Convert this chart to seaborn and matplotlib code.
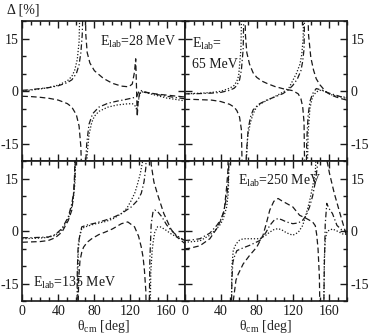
import numpy as np
import pandas as pd
import seaborn as sns
import matplotlib.pyplot as plt
from matplotlib.ticker import MultipleLocator

# each curve: list of branches (x in deg, y in %), branches split at the poles
E28_dash = [
    ([0, 10, 20, 30, 40, 50, 55, 60, 63, 65, 66.5],
     [-1.5, -1.6, -1.8, -2.1, -2.6, -3.6, -4.6, -6.8, -10, -16, -30]),
    ([69.5, 70.5, 72, 75, 80, 90, 100, 110, 118, 122, 124.5, 125.8, 126.6, 127.5, 128.5, 130, 133, 140, 150, 165, 180],
     [30, 16, 11, 8, 5.8, 3.6, 2.2, 1.4, 1.2, 2.0, 5.5, 9.2, 2, -7.3, -3, -0.8, -0.3, -0.5, -0.9, -1.3, -1.7]),
]
E28_dashdot = [
    ([0, 10, 20, 30, 40, 50, 55, 60, 63, 65, 66.5, 67.5, 68.2],
     [0.2, 0.4, 0.7, 1.0, 1.5, 2.4, 3.2, 5, 7.5, 11, 16, 25, 40]),
    ([69, 70, 71.5, 74, 78, 85, 95, 105, 115, 122, 125, 127, 129, 131, 135, 145, 160, 180],
     [-40, -22, -15, -9.5, -6.5, -4.6, -3.5, -2.9, -2.4, -2.0, -1.8, -1.5, -0.3, 0.2, -0.2, -0.8, -1.5, -2.2]),
]
E28_dot = [
    ([0, 10, 20, 30, 40, 50, 55, 58, 61, 63, 64.5],
     [0, 0.3, 0.6, 1.0, 1.7, 2.9, 4.2, 5.8, 9, 14, 30]),
    ([70.5, 72, 74, 77, 80, 85, 95, 105, 115, 122, 125, 127, 129, 131, 135, 145, 160, 180],
     [-30, -18, -12.5, -9, -7.2, -5.8, -4.6, -4.0, -3.7, -3.6, -4.2, -5.4, -2.5, -0.2, -0.3, -1.0, -2.0, -2.8]),
]

E65_dash = [
    ([0, 10, 20, 30, 40, 50, 55, 58, 61, 63, 64.5],
     [-2.4, -2.4, -2.5, -2.6, -3.0, -3.8, -4.6, -5.6, -7.5, -11, -30]),
    ([66.5, 67.5, 69, 72, 76, 80, 86, 92, 100, 110, 120, 126, 129, 131, 132.5, 133.5],
     [30, 16, 11, 7.7, 5.2, 3.9, 2.8, 2.1, 1.3, 0.6, 0.1, -0.8, -2.2, -4.5, -9, -30]),
    ([136, 137.5, 140, 143, 146, 150, 157, 163, 168, 174, 180],
     [30, 16, 9.6, 6, 3.5, 1.8, -0.3, -1.2, -1.7, -2.2, -2.6]),
]
E65_dashdot = [
    ([0, 10, 20, 30, 40, 50, 55, 58, 61, 63, 65, 66.2],
     [-0.8, -0.8, -0.7, -0.6, -0.4, 0.2, 0.8, 1.6, 3.2, 6, 12, 30]),
    ([67.2, 68.5, 70.5, 73, 76, 82, 91, 100, 109, 115, 120, 125, 129, 131, 132.5, 133.5],
     [-30, -18, -11, -7.5, -5.4, -3.8, -2.6, -1.7, -0.75, 0.3, 1.6, 3.4, 5.8, 8.5, 12, 30]),
    ([134.5, 135.5, 137, 139, 142, 146, 153, 160, 168, 180],
     [-30, -14, -7, -3, -0.75, 0.7, 0.2, -0.6, -1.2, -2.2]),
]
E65_dot = [
    ([0, 10, 20, 30, 40, 50, 55, 58, 60, 62.5, 63.8],
     [-0.8, -0.7, -0.6, -0.4, -0.1, 0.8, 1.6, 2.8, 4.4, 12, 30]),
    ([67.5, 68.5, 70, 73, 76, 80, 86, 92, 100, 110, 116, 120, 124, 128, 130, 131.5, 132.5],
     [-30, -20, -13, -9, -6.5, -4.5, -3.4, -2.6, -1.6, -0.2, 1.0, 3.0, 5.0, 7.7, 10.5, 15, 30]),
    ([135.5, 137, 139, 141, 143, 146, 150, 155, 164, 172, 180],
     [-30, -12, -5, -2.5, -1.2, -0.3, 0.2, 0.0, -1.2, -1.6, -1.8]),
]

E135_dash = [
    ([0, 10, 20, 29, 36.6, 44, 51, 55, 57, 58, 59],
     [-3.2, -3.1, -3.0, -2.7, -1.9, -0.3, 3, 6, 10.8, 16, 30]),
    ([61.5, 62.5, 64, 66, 68, 72, 77, 85, 92, 100, 110, 117, 124.5, 129, 132, 134, 135.5, 137, 138],
     [-30, -14, -8.5, -6, -4.6, -3.2, -2.2, -1.0, -0.3, 0.6, 2.1, 2.6, 1.2, -1.5, -4.6, -7.5, -11.3, -17, -30]),
    ([141.5, 143, 146, 150, 157, 165, 172, 180],
     [30, 19, 14, 10.5, 5, 0.5, -1.8, -3.5]),
]
E135_dashdot = [
    ([0, 10, 20, 29, 36.6, 44, 51, 55, 57, 58.5, 59.5],
     [-1.9, -1.9, -1.8, -1.7, -1.0, 0.7, 4, 7.9, 11, 16, 30]),
    ([60.5, 61, 62, 64, 66, 73, 80, 92, 100, 110, 121, 128, 132, 135, 137, 138.5],
     [-30, -12, -4, -1.0, 1.2, 1.8, 2.2, 3.1, 3.8, 5, 6.9, 8.8, 10.8, 14, 18, 30]),
    ([140.5, 141.5, 143, 145, 147, 150, 155, 160, 165, 172, 180],
     [-30, -8, 2, 5.5, 6, 5.6, 4, 1.8, 0.2, -1.4, -2.7]),
]
E135_dot = [
    ([0, 10, 20, 29, 36.6, 44, 51, 55, 57, 58.5, 59.5],
     [-2.2, -2.1, -2.0, -1.8, -1.2, 0.4, 3.5, 7, 10, 14, 30]),
    ([61, 62, 63.5, 66, 70, 80, 92, 100, 110, 116, 121, 125, 128, 131, 133.5, 135],
     [-30, -6, -1.7, 0.7, 1.2, 2.0, 2.7, 3.4, 5, 6.5, 8.8, 11, 13.6, 16.5, 20, 30]),
    ([141.5, 142.5, 144, 145.5, 147, 150, 153, 158, 165, 172, 180],
     [-30, -12, -5.7, -2.5, -0.3, 1.2, 1.2, 0.5, -0.8, -1.8, -2.7]),
]

E250_dash = [
    ([0, 6, 17, 28, 35.7, 40, 44, 46.7, 48, 49],
     [-5.1, -4.9, -4.2, -2.2, 0.7, 3, 6, 12.7, 17, 30]),
    ([52.5, 54, 57, 59.5, 65, 72, 80, 87, 91, 94.5, 99, 103.7, 108, 113, 120, 127.6, 135, 142, 145, 146.5, 148, 149.5, 150.5],
     [-30, -20, -14, -12.3, -9.4, -7, -4.6, -1.2, 2.5, 6, 8.5, 9.3, 8.6, 7.9, 6.9, 4.5, 3.6, 2.6, 1.5, -1, -5, -13, -30]),
    ([156.5, 158, 160.7, 166, 173.5, 179, 180],
     [30, 20, 16.5, 10.8, 4, -0.8, -1.2]),
]
E250_dashdot = [
    ([0, 6, 17, 28, 35.7, 40, 43, 46.7, 48.5, 50],
     [-2.7, -2.6, -2.2, -0.6, 1.6, 3.2, 5, 9.8, 14, 30]),
    ([51.5, 52.5, 53.5, 55, 58, 65, 72, 83.5, 90, 94.5, 99, 103.7, 108, 113, 120, 126, 131, 135, 138.6, 142, 145, 147.5, 149.5],
     [-30, -14, -9, -7.5, -5.6, -4.8, -4.1, -2.7, -0.5, 1.6, 3.0, 3.6, 3.2, 2.6, 2.1, 2.3, 3.1, 4.5, 6.9, 10, 14, 19, 30]),
    ([154, 155, 156, 157.7, 160, 164, 169, 174, 180],
     [-30, -10, 2, 7.9, 6.5, 5, 1.6, 0.4, -0.2]),
]
E250_dot = [
    ([0, 6, 17, 28, 35.7, 40, 43, 46.7, 48.5, 50],
     [-3.2, -3.1, -2.8, -1.2, 0.7, 2, 3.6, 6.9, 11, 30]),
    ([51.5, 52.5, 54, 57, 61, 65, 72, 83.5, 90, 94.5, 99, 103.7, 108, 113, 120, 126, 131, 135, 138.6, 142, 145, 147.5],
     [-30, -10, -5.5, -3.7, -2.6, -2.2, -2.2, -2.2, -1.2, -0.3, 0.4, 0.7, 0.3, -0.5, -1.2, -0.4, 1.6, 5, 8.5, 12.7, 17, 30]),
    ([154, 155, 156, 158, 160.7, 164, 170, 175, 180],
     [-30, -8, -2.5, 0, 0.2, 0.6, -0.1, -0.8, -1.0]),
]

panels = {
    "28": {"dash": E28_dash, "dashdot": E28_dashdot, "dot": E28_dot},
    "65": {"dash": E65_dash, "dashdot": E65_dashdot, "dot": E65_dot},
    "135": {"dash": E135_dash, "dashdot": E135_dashdot, "dot": E135_dot},
    "250": {"dash": E250_dash, "dashdot": E250_dashdot, "dot": E250_dot},
}

rows = []
for energy, curves in panels.items():
    for model, branches in curves.items():
        for i, (xs, ys) in enumerate(branches):
            for xv, yv in zip(xs, ys):
                rows.append((energy, model, f"{model}-{i}", xv, yv))
df = pd.DataFrame(rows, columns=["energy", "model", "branch", "theta", "delta"])

sns.set_theme(style="ticks")
plt.rcParams["font.family"] = ["Liberation Serif", "DejaVu Serif"]
plt.rcParams["mathtext.fontset"] = "custom"
plt.rcParams["mathtext.rm"] = "Liberation Serif"
plt.rcParams["mathtext.it"] = "Liberation Serif:italic"
plt.rcParams["axes.unicode_minus"] = False

dash_map = {"dash": (4.5, 2.5), "dashdot": (4.5, 2, 1, 2), "dot": (1, 1.5)}

fig, axes = plt.subplots(2, 2, figsize=(3.71, 3.36), dpi=100)
fig.subplots_adjust(left=0.06, right=0.935, bottom=0.104, top=0.9375, wspace=0, hspace=0)

order = [["28", "65"], ["135", "250"]]
for r in range(2):
    for c in range(2):
        ax = axes[r, c]
        sub = df[df["energy"] == order[r][c]]
        sns.lineplot(data=sub, x="theta", y="delta", style="model", units="branch",
                     estimator=None, sort=False, dashes=dash_map, color="k",
                     lw=0.9, legend=False, ax=ax)
        ax.set_xlim(0, 180)
        ax.set_ylim(-20, 20)
        ax.xaxis.set_major_locator(MultipleLocator(40))
        ax.xaxis.set_minor_locator(MultipleLocator(10))
        ax.yaxis.set_major_locator(MultipleLocator(15))
        ax.yaxis.set_minor_locator(MultipleLocator(5))
        ax.tick_params(which="both", direction="in", top=True, right=True,
                       labelsize=10, colors="k", width=1)
        ax.tick_params(which="major", length=5)
        ax.tick_params(axis="x", which="major", pad=3)
        ax.tick_params(axis="y", which="major", pad=2.5)
        ax.tick_params(which="minor", length=3)
        ax.tick_params(labelleft=(c == 0), labelright=(c == 1), labelbottom=(r == 1))
        for s in ax.spines.values():
            s.set_linewidth(1.2)
            s.set_color("k")
        ax.set_ylabel("")
        if r == 1:
            ax.set_xlabel(r"θ$_{\rm cm}$ [deg]", fontsize=10, labelpad=0)
        else:
            ax.set_xlabel("")

tkw = dict(fontsize=10, color="k")
axes[0, 0].text(0.48, 0.82, r"E$_{\rm lab}$=28 MeV", transform=axes[0, 0].transAxes, **tkw)
axes[0, 1].text(0.046, 0.807, r"E$_{\rm lab}$=", transform=axes[0, 1].transAxes, **tkw)
axes[0, 1].text(0.046, 0.664, "65 MeV", transform=axes[0, 1].transAxes, **tkw)
axes[1, 0].text(0.066, 0.102, r"E$_{\rm lab}$=135 MeV", transform=axes[1, 0].transAxes, **tkw)
axes[1, 1].text(0.33, 0.83, r"E$_{\rm lab}$=250 MeV", transform=axes[1, 1].transAxes, **tkw)
fig.text(0.019, 0.961, "Δ [%]", **tkw)

fig.savefig("out.png", dpi=100)
